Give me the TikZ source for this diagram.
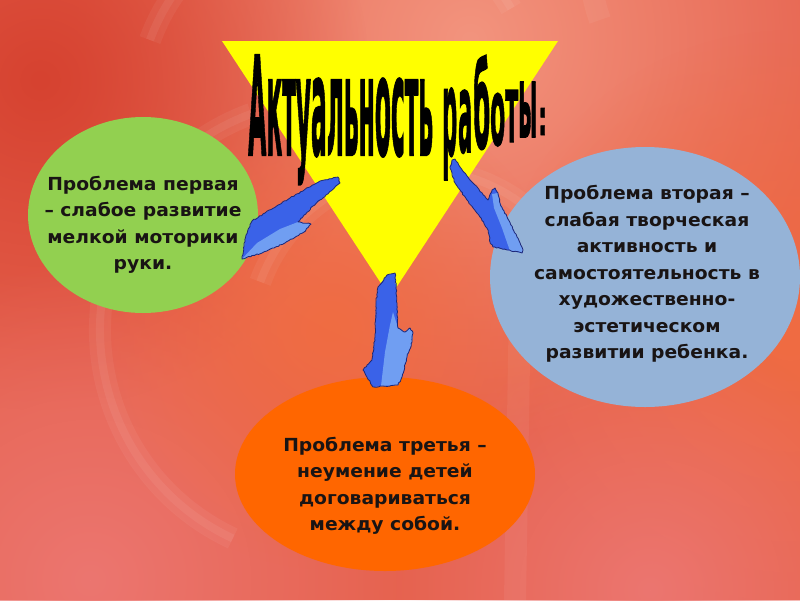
\documentclass[tikz,border=0pt]{standalone}
\usepackage{graphicx}
\usepackage{fontspec}
\setmainfont{DejaVu Sans}
\newfontfamily\bodyfont{DejaVu Sans}[FakeStretch=1.04]
\newfontfamily\titlefont{DejaVu Sans Condensed}[FakeBold=1.5]
\usetikzlibrary{shapes.geometric,fadings,decorations.pathmorphing}
\tikzfading[name=softblob, inner color=transparent!0, outer color=transparent!100]
\definecolor{bgbase}{RGB}{230,98,78}
\definecolor{bglight}{RGB}{243,148,126}
\definecolor{bgdark}{RGB}{214,66,48}
\definecolor{bgpink}{RGB}{236,118,112}
\definecolor{bgorange}{RGB}{240,108,66}
\definecolor{tri}{RGB}{255,255,0}
\definecolor{cgreen}{RGB}{146,208,80}
\definecolor{cblue}{RGB}{149,179,215}
\definecolor{corange}{RGB}{255,102,0}
\definecolor{adark}{RGB}{58,98,232}
\definecolor{alight}{RGB}{112,158,242}
\definecolor{aline}{RGB}{30,40,120}
\definecolor{ink}{RGB}{25,20,20}
\tikzset{
  blob/.style={fill=#1, path fading=softblob},
  swirl/.style={white, opacity=0.05, line width=22pt},
  swirlcore/.style={white, opacity=0.06, line width=8pt},
  bubble/.style={ellipse, inner sep=0pt, draw=none},
  ptext/.style={font={\bodyfont\bfseries\fontsize{18}{26.5}\selectfont}, text=ink, align=center, inner sep=0pt},
  tl/.style={anchor=base west, inner sep=0pt, text=black},
  aout/.style={draw=aline, line width=0.8pt, line join=round, decorate,
    decoration={random steps, segment length=2.2pt, amplitude=0.6pt}}
}
\newcommand{\tletter}[3]{\resizebox{#1pt}{#2pt}{\titlefont\bfseries #3}}
\begin{document}
\begin{tikzpicture}[x=1pt,y=-1pt]
\useasboundingbox (0,0) rectangle (800,600);
% background
\fill[bgbase] (0,0) rectangle (800,600);
\fill[blob=bglight] (470,40) circle (400);
\fill[blob=bgdark] (40,80) circle (330);
\fill[blob=bgpink] (90,580) circle (320);
\fill[blob=bgorange] (790,330) circle (300);
\fill[blob=bgorange] (330,330) circle (240);
\fill[blob=bgpink] (650,590) circle (260);
\draw[swirl] (330,330) ++(115:230) arc (115:250:230);
\draw[swirlcore] (330,330) ++(115:230) arc (115:250:230);
\draw[swirl] (420,340) ++(200:170) arc (200:320:170);
\draw[swirlcore] (420,340) ++(200:170) arc (200:320:170);
\draw[swirl] (520,300) -- (515,600);
\draw[swirl] (150,40) arc (200:330:200);
\draw[swirlcore] (150,40) arc (200:330:200);
\draw[swirl] (600,20) arc (160:300:160);
% triangle
\fill[tri] (222,41) -- (558,41) -- (390,297) -- cycle;
% bubbles
\node[bubble, fill=cgreen, minimum width=230pt, minimum height=196pt] (b1) at (143,215) {};
\node[bubble, fill=cblue, minimum width=310pt, minimum height=260pt] (b2) at (645,277) {};
\node[bubble, fill=corange, minimum width=300pt, minimum height=194pt] (b3) at (385,474) {};
% title
\node[tl] (h1) at (248,155) {\tletter{185}{100}{Актуальность}};
\node[tl] (h2) at (442,155) {\tletter{15}{67}{р}};
\node[tl] (h3) at (458,152) {\tletter{14}{62}{а}};
\node[tl] (h4) at (473,148) {\tletter{17}{93}{б}};
\node[tl] (h5) at (490,145) {\tletter{15}{52}{о}};
\node[tl] (h6) at (505,142) {\tletter{13}{52}{т}};
\node[tl] (h7) at (518,137) {\tletter{19}{55}{ы}};
\node[tl] (h8) at (538,135) {\tletter{9}{27}{:}};
% texts
\node[ptext] (t1) at (143,225) {Проблема первая\\– слабое развитие\\мелкой моторики\\руки.};
\node[ptext] (t2) at (647,274) {Проблема вторая –\\слабая творческая\\активность и\\самостоятельность в\\художественно-\\эстетическом\\развитии ребенка.};
\node[ptext] (t3) at (385,486) {Проблема третья –\\неумение детей\\договариваться\\между собой.};
% arrow 1 (to left)
\fill[adark] (338,177) -- (320,181) -- (290,198) -- (265,213) -- (252,221) -- (246,235) -- (242,259) -- (262,253) -- (285,243) -- (304,232) -- (311,224) -- (298,222) -- (313,206) -- (331,191) -- (340,183) -- cycle;
\fill[alight] (242,259) -- (262,253) -- (285,243) -- (304,232) -- (311,224) -- (298,222) -- (280,229) -- (257,243) -- cycle;
\path[aout] (338,177) -- (320,181) -- (290,198) -- (265,213) -- (252,221) -- (246,235) -- (242,259) -- (262,253) -- (285,243) -- (304,232) -- (311,224) -- (298,222) -- (313,206) -- (331,191) -- (340,183) -- cycle;
% arrow 2 (to right)
\fill[adark] (452,160) -- (455,159) -- (460,167) -- (473,183) -- (488,200) -- (492,190) -- (495,188) -- (498,193) -- (500,203) -- (507,217) -- (517,237) -- (523,250) -- (522,253) -- (507,250) -- (493,247) -- (490,242) -- (488,230) -- (480,217) -- (467,200) -- (455,183) -- (450,167) -- cycle;
\fill[alight] (492,194) -- (498,193) -- (500,203) -- (507,217) -- (517,237) -- (523,250) -- (522,253) -- (510,251) -- (502,228) -- (494,208) -- cycle;
\path[aout] (452,160) -- (455,159) -- (460,167) -- (473,183) -- (488,200) -- (492,190) -- (495,188) -- (498,193) -- (500,203) -- (507,217) -- (517,237) -- (523,250) -- (522,253) -- (507,250) -- (493,247) -- (490,242) -- (488,230) -- (480,217) -- (467,200) -- (455,183) -- (450,167) -- cycle;
% arrow 3 (down)
\fill[adark] (387,275) -- (395,273) -- (397,303) -- (398,328) -- (405,332) -- (410,328) -- (413,333) -- (412,342) -- (407,357) -- (402,377) -- (398,385) -- (373,387) -- (363,370) -- (372,360) -- (375,337) -- (376,303) -- (378,287) -- cycle;
\fill[alight] (393,312) -- (398,328) -- (405,332) -- (410,328) -- (413,333) -- (412,342) -- (407,357) -- (402,377) -- (398,385) -- (381,386) -- (385,352) -- (390,325) -- cycle;
\path[aout] (387,275) -- (395,273) -- (397,303) -- (398,328) -- (405,332) -- (410,328) -- (413,333) -- (412,342) -- (407,357) -- (402,377) -- (398,385) -- (373,387) -- (363,370) -- (372,360) -- (375,337) -- (376,303) -- (378,287) -- cycle;
\end{tikzpicture}
\end{document}
